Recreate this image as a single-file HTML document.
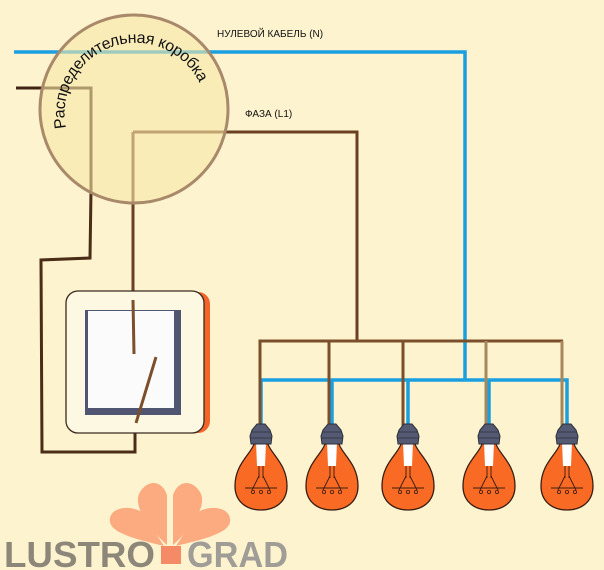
<!DOCTYPE html>
<html><head><meta charset="utf-8"><style>
html,body{margin:0;padding:0;background:#fdf3cf;}
svg{display:block}
</style></head><body>
<svg width="604" height="570" viewBox="0 0 604 570" xmlns="http://www.w3.org/2000/svg">
<defs>
<g id="bulb">
  <path d="M-7,20 C-10,30 -26,40 -26,62 C-26,78 -14,86 0,86 C14,86 26,78 26,62 C26,40 10,30 7,20 Z" fill="#f96a25" stroke="#3a1d10" stroke-width="1.3"/>
  <path d="M-5,18 L5,18 L4,42 L-4,42 Z" fill="#fff"/>
  <path d="M-2,42 L-2,54 M2,42 L2,54 M-2,52 L-9,66 M2,52 L9,66 M-16,64 L16,64" stroke="#3a1d10" stroke-width="0.9" fill="none"/>
  <circle cx="-8" cy="68" r="1.6" fill="none" stroke="#3a1d10" stroke-width="0.8"/>
  <circle cx="0" cy="68" r="1.6" fill="none" stroke="#3a1d10" stroke-width="0.8"/>
  <circle cx="8" cy="68" r="1.6" fill="none" stroke="#3a1d10" stroke-width="0.8"/>
  <path d="M-4,0 L4,0 L9,6 L11,12 L10,20 L-10,20 L-11,12 L-9,6 Z" fill="#545a72" stroke="#2d2f3c" stroke-width="1"/>
  <path d="M-10,8 L10,8 M-11,14 L11,14" stroke="#2d2f3c" stroke-width="0.8"/>
</g>
</defs>
<rect width="604" height="570" fill="#fdf3cf"/>
<!-- neutral -->
<polyline points="14,52 465,52 465,380" fill="none" stroke="#1aa0e0" stroke-width="3.5"/>
<polyline points="261,430 261,380 567,380 567,430" fill="none" stroke="#1aa0e0" stroke-width="3.5"/>
<path d="M332,380V430M408,380V430M489,380V430" stroke="#1aa0e0" stroke-width="3.5"/>
<text x="217" y="37" font-family="Liberation Sans, sans-serif" font-size="10" fill="#111">НУЛЕВОЙ КАБЕЛЬ (N)</text>
<!-- phase -->
<polyline points="133,132 357,132 357,341" fill="none" stroke="#6b3f22" stroke-width="3"/>
<polyline points="133,132 133,352" fill="none" stroke="#6b3f22" stroke-width="3"/>
<text x="245" y="117" font-family="Liberation Sans, sans-serif" font-size="10" fill="#111">ФАЗА (L1)</text>
<polyline points="260,430 260,341 563,341" fill="none" stroke="#7b4f2b" stroke-width="3"/>
<path d="M329,341V430M403,341V430" stroke="#7b4f2b" stroke-width="3"/>
<path d="M486,341V430M562,341V430" stroke="#a8875a" stroke-width="3"/>
<!-- left wire -->
<polyline points="16,88 91,88 91,190" fill="none" stroke="#3f2414" stroke-width="3"/>
<polyline points="91,190 90,258 41,260 42,452 135,452 135,423" fill="none" stroke="#4a2c17" stroke-width="3"/>
<!-- junction box -->
<circle cx="134" cy="109" r="94" fill="#f9e7a6" fill-opacity="0.6" stroke="#a8896a" stroke-width="3"/>
<path id="arc" d="M66,128 A71,71 0 0 1 198,80" fill="none"/>
<text font-family="Liberation Sans, sans-serif" font-size="16" fill="#111"><textPath href="#arc" textLength="205" lengthAdjust="spacing">Распределительная коробка</textPath></text>
<!-- switch -->
<rect x="72" y="292" width="138" height="141" rx="12" fill="#f3632a"/>
<rect x="66" y="291" width="138" height="142" rx="12" fill="#fcf8e2" stroke="#3a2a20" stroke-width="1.3"/>
<rect x="85" y="310" width="96" height="105" fill="#505672"/>
<rect x="88" y="311" width="86" height="97" fill="#fbfbfb"/>
<polyline points="133,300 134,354" fill="none" stroke="#7b4f2b" stroke-width="3"/>
<line x1="156" y1="357" x2="136" y2="423" stroke="#7b4f2b" stroke-width="3"/>
<!-- bulbs -->
<use href="#bulb" x="261" y="424"/>
<use href="#bulb" x="332" y="424"/>
<use href="#bulb" x="408" y="424"/>
<use href="#bulb" x="489" y="424"/>
<use href="#bulb" x="567" y="424"/>
<!-- logo -->
<g fill="#fbab7f">
  <path d="M167,545 C148,528 132,505 140,492 C148,479 162,480 167,495 Z"/>
  <path d="M173,545 C192,528 208,505 200,492 C192,479 178,480 173,495 Z"/>
  <path d="M164,546 C140,540 112,534 110,522 C108,508 128,504 142,512 Z"/>
  <path d="M176,546 C200,540 228,534 230,522 C232,508 212,504 198,512 Z"/>
</g>
<rect x="161" y="546" width="20" height="18" fill="#f48b66"/>
<text x="4" y="567" font-family="Liberation Sans, sans-serif" font-weight="bold" font-size="36" fill="#8d877a" textLength="151" lengthAdjust="spacingAndGlyphs">LUSTRO</text>
<text x="187" y="567" font-family="Liberation Sans, sans-serif" font-weight="bold" font-size="36" fill="#a09c96" textLength="101" lengthAdjust="spacingAndGlyphs">GRAD</text>
</svg>
</body></html>
